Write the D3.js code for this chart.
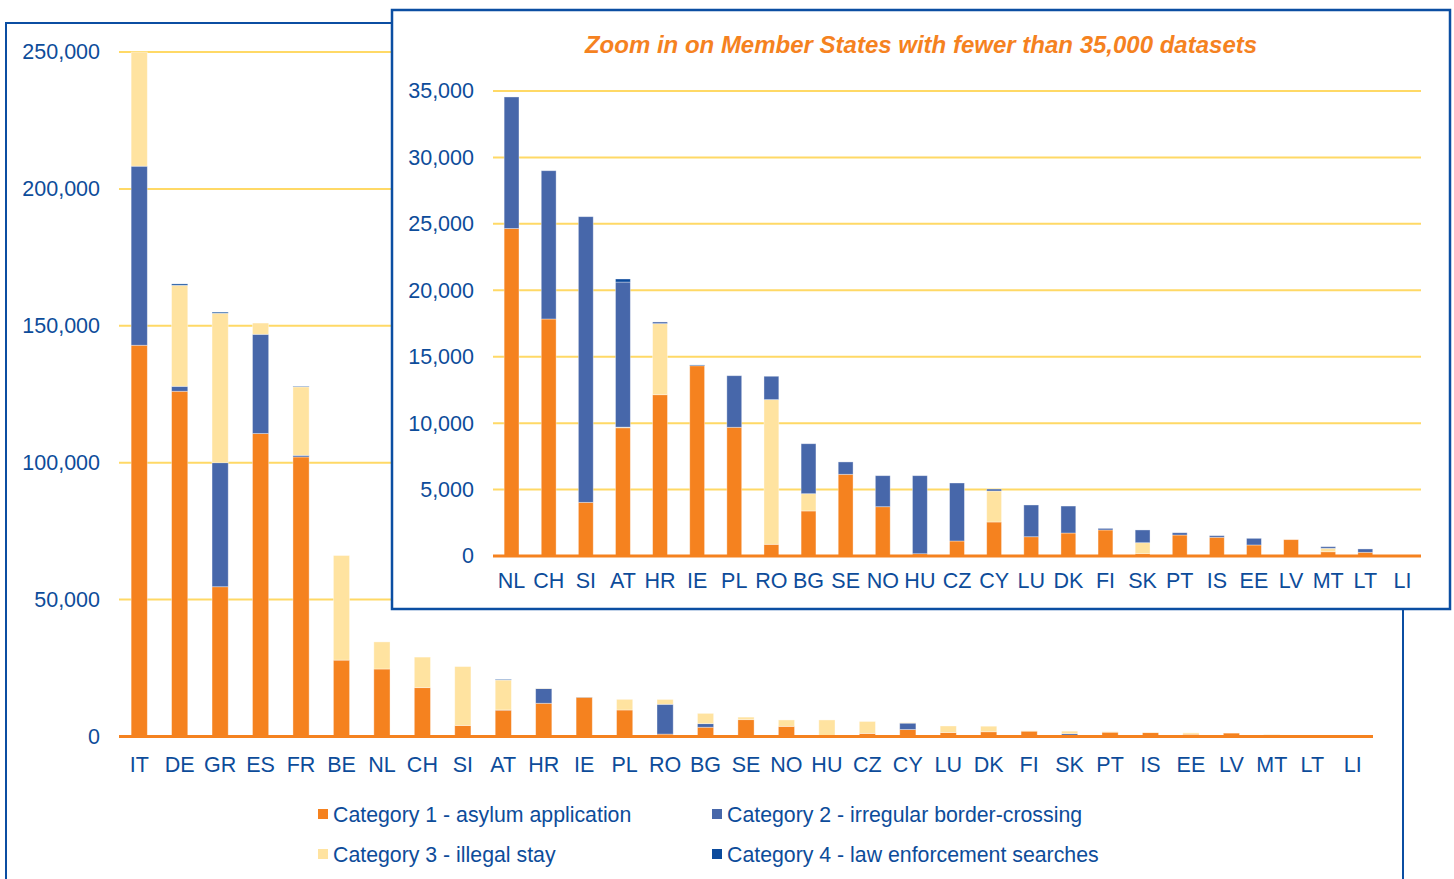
<!DOCTYPE html>
<html>
<head>
<meta charset="utf-8">
<script src="https://cdn.jsdelivr.net/npm/d3@7"></script>
<style>
  body { margin: 0; background: #fff; }
  svg { font-family: "Liberation Sans", Arial, sans-serif; }
</style>
</head>
<body>
<svg id="chart" width="1454" height="879"></svg>
<script>
// Data (datasets per country, by category)
var countries = ["IT","DE","GR","ES","FR","BE","NL","CH","SI","AT","HR","IE","PL","RO","BG","SE","NO","HU","CZ","CY","LU","DK","FI","SK","PT","IS","EE","LV","MT","LT","LI"];
var cat1 = [142900,126100,54700,110650,102100,27900,24650,17840,4040,9650,12140,14320,9690,880,3390,6150,3710,170,1130,2560,1450,1730,1960,170,1580,1410,830,1230,320,280,20];
var cat2 = [65400,1800,45300,36250,600,0,0,0,0,50,5350,0,0,10890,1300,0,0,0,0,2330,0,0,0,830,0,0,0,0,260,0,0];
var cat3 = [41700,36900,54600,4100,25000,38200,9900,11160,21500,10920,125,0,3880,1760,3760,930,2335,5875,4365,150,2390,2030,120,960,170,120,500,0,120,250,0];
var cat4 = [0,500,400,0,200,0,0,0,0,230,0,60,0,0,0,0,0,0,0,0,0,0,0,0,0,0,0,0,0,0,0];

var mainTicks = [0, 50000, 100000, 150000, 200000, 250000];
var zoomTicks = [0, 5000, 10000, 15000, 20000, 25000, 30000, 35000];
var zoomLimit = 35000;

var keys = ["c1", "c2", "c3", "c4"];
var legendLabels = ["Category 1 - asylum application", "Category 2 - irregular border-crossing",
                    "Category 3 - illegal stay", "Category 4 - law enforcement searches"];

// colours
var orange = "#F5821F", blue = "#4767AA", yellow = "#FFE3A0", navy = "#0B4A9C";
var textCol = "#0D4C9A", frameCol = "#0B4EA2", gridCol = "#FFD966";
var mainColors = {c1: orange, c2: blue, c3: yellow, c4: navy};
var zoomColors = {c1: orange, c2: yellow, c3: blue, c4: navy};

var rows = countries.map(function(c, i) {
    return {country: c, c1: cat1[i], c2: cat2[i], c3: cat3[i], c4: cat4[i]};
});
var fmt = d3.format(",");
var svg = d3.select("#chart");

function drawChart(g, data, opt) {
    var x = d3.scaleBand()
        .domain(data.map(function(d){ return d.country; }))
        .range([opt.x0, opt.x1])
        .paddingInner(0.6)
        .paddingOuter(0.3);
    var y = d3.scaleLinear()
        .domain([0, opt.max])
        .range([opt.y0, opt.yTop]);

    // gridlines
    g.selectAll("line.grid")
        .data(opt.ticks.slice(1)).enter().append("line")
        .attr("class", "grid")
        .attr("x1", opt.x0).attr("x2", opt.x1)
        .attr("y1", function(d){ return y(d); })
        .attr("y2", function(d){ return y(d); })
        .attr("stroke", gridCol)
        .attr("stroke-width", 2);

    // y axis labels
    var yAxis = d3.axisLeft(y).tickValues(opt.ticks).tickFormat(fmt).tickSize(0).tickPadding(19);
    var ya = g.append("g")
        .attr("transform", "translate(" + opt.x0 + ",0)")
        .call(yAxis);
    ya.select(".domain").remove();
    ya.selectAll("text").attr("fill", textCol).style("font-size", "21.5px");

    // stacked bars
    var series = d3.stack().keys(keys)(data);
    g.selectAll("g.series")
        .data(series).enter().append("g")
        .attr("class", "series")
        .attr("fill", function(s){ return opt.colors[s.key]; })
      .selectAll("rect")
        .data(function(s){ return s; }).enter().append("rect")
        .attr("x", function(d){ return x(d.data.country); })
        .attr("width", x.bandwidth())
        .attr("y", function(d){ return y(d[1]); })
        .attr("height", function(d){ return Math.max(0, y(d[0]) - y(d[1])); })
        .attr("stroke", "rgba(255,255,255,0.45)")
        .attr("stroke-width", 0.8);

    // baseline
    g.append("line")
        .attr("x1", opt.x0).attr("x2", opt.x1)
        .attr("y1", opt.y0).attr("y2", opt.y0)
        .attr("stroke", orange)
        .attr("stroke-width", 3);

    // x axis labels
    var xAxis = d3.axisBottom(x).tickSize(0).tickPadding(opt.labelPad);
    var xa = g.append("g")
        .attr("transform", "translate(0," + opt.y0 + ")")
        .call(xAxis);
    xa.select(".domain").remove();
    xa.selectAll("text").attr("fill", textCol).style("font-size", "21.5px");
}

// main frame
svg.append("rect")
    .attr("x", 6).attr("y", 23)
    .attr("width", 1397).attr("height", 900)
    .attr("fill", "#fff")
    .attr("stroke", frameCol)
    .attr("stroke-width", 2);

drawChart(svg.append("g"), rows, {
    x0: 119, x1: 1373, y0: 736.5, yTop: 52, max: 250000,
    ticks: mainTicks, colors: mainColors, labelPad: 20
});

// legend
var legend = svg.append("g");
var legendPos = [[318, 814], [712, 814], [318, 854], [712, 854]];
keys.forEach(function(k, i) {
    var item = legend.append("g")
        .attr("transform", "translate(" + legendPos[i][0] + "," + legendPos[i][1] + ")");
    item.append("rect")
        .attr("x", 0).attr("y", -5)
        .attr("width", 10).attr("height", 10)
        .attr("fill", mainColors[k]);
    item.append("text")
        .attr("x", 15).attr("y", 7.5)
        .attr("fill", textCol)
        .style("font-size", "21.3px")
        .text(legendLabels[i]);
});

// inset: zoom on small states
var inset = svg.append("g");
inset.append("rect")
    .attr("x", 392).attr("y", 10)
    .attr("width", 1058).attr("height", 599)
    .attr("fill", "#fff")
    .attr("stroke", frameCol)
    .attr("stroke-width", 2.5);

inset.append("text")
    .attr("x", 921).attr("y", 53)
    .attr("text-anchor", "middle")
    .attr("fill", orange)
    .style("font-size", "24px")
    .style("font-weight", "bold")
    .style("font-style", "italic")
    .text("Zoom in on Member States with fewer than 35,000 datasets");

var small = rows.filter(function(d){ return d.c1 + d.c2 + d.c3 + d.c4 < zoomLimit; });
drawChart(inset, small, {
    x0: 493, x1: 1421, y0: 556, yTop: 91, max: 35000,
    ticks: zoomTicks, colors: zoomColors, labelPad: 17
});
</script>
</body>
</html>
